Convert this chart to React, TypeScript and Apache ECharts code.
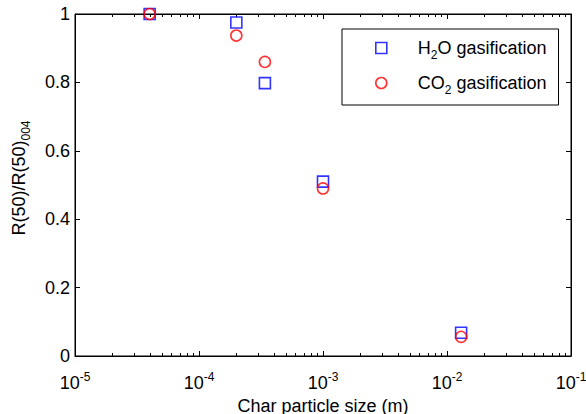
import React, { useEffect, useRef } from 'react';
import * as echarts from 'echarts';

// ---- data ----
const particleSize = [4e-5, 2e-4, 3.4e-4, 1e-3, 1.3e-2];
const h2oRatio = [1.0, 0.975, 0.798, 0.51, 0.068];
const co2Ratio = [1.0, 0.937, 0.86, 0.49, 0.056];
const seriesNames = ['H2O gasification', 'CO2 gasification'];
const xDecadeExponents = [-5, -4, -3, -2, -1];
const minorMultipliers = [2, 3, 4, 5, 6, 7, 8, 9];
const xAxisTitle = 'Char particle size (m)';

const FONT = '"Liberation Sans", Arial, Helvetica, sans-serif';

// tick marks for the frame (value, 0, isMajor)
const frameTicks: number[][] = [];
xDecadeExponents.forEach((e, i) => {
  frameTicks.push([Math.pow(10, e), 0, 1]);
  if (i < xDecadeExponents.length - 1) {
    minorMultipliers.forEach((m) => frameTicks.push([m * Math.pow(10, e), 0, 0]));
  }
});

const legendLabel = (name: string) => {
  if (name.startsWith('H2O')) return '{p|H}{s|2}{a|O gasification}';
  return '{p|CO}{s|2}{a| gasification}';
};

export default function App() {
  const ref = useRef<HTMLDivElement>(null);

  useEffect(() => {
    if (!ref.current) return;
    const chart = echarts.init(ref.current, undefined, { renderer: 'svg' });

    const axisLine = () => ({ show: true, onZero: false, lineStyle: { color: '#000', width: 1 } });
    const majorTick = () => ({ show: true, inside: true, length: 5, lineStyle: { color: '#000', width: 1 } });

    const option: any = {
      animation: false,
      backgroundColor: '#fff',
      textStyle: { fontFamily: FONT, color: '#000' },
      grid: {
        left: 75,
        right: 15,
        top: 14,
        bottom: 58,
        containLabel: false,
        outerBoundsMode: 'none',
        show: true,
        borderColor: '#000',
        borderWidth: 1,
        backgroundColor: 'rgba(255,255,255,0)',
      },
      legend: {
        data: seriesNames,
        orient: 'vertical',
        left: 342,
        top: 29,
        itemWidth: 11,
        itemHeight: 11,
        itemGap: 13,
        padding: [10, 12, 9, 33],
        borderColor: '#000',
        borderWidth: 1,
        backgroundColor: '#fff',
        itemStyle: { borderWidth: 1.6 },
        formatter: legendLabel,
        textStyle: {
          color: '#000',
          fontFamily: FONT,
          fontSize: 18,
          rich: {
            p: { fontFamily: FONT, fontSize: 18, lineHeight: 26, color: '#000', padding: [0, 0, 0, 26] },
            a: { fontFamily: FONT, fontSize: 18, lineHeight: 26, color: '#000' },
            s: { fontFamily: FONT, fontSize: 12, lineHeight: 6, verticalAlign: 'bottom', color: '#000' },
          },
        },
      },
      xAxis: {
        type: 'log',
        logBase: 10,
        min: 1e-5,
        max: 1e-1,
        position: 'bottom',
        axisLine: axisLine(),
        axisTick: majorTick(),
        splitLine: { show: false },
        minorTick: { show: false },
        axisLabel: {
          margin: 15,
          formatter: (v: number) => `{b|10}{e|${Math.round(Math.log10(v))}}`,
          rich: {
            b: { fontFamily: FONT, fontSize: 18, lineHeight: 24, color: '#000' },
            e: { fontFamily: FONT, fontSize: 12, lineHeight: 12, verticalAlign: 'top', color: '#000' },
          },
        },
        name: xAxisTitle,
        nameLocation: 'middle',
        nameGap: 31,
        nameTextStyle: { fontFamily: FONT, fontSize: 18, color: '#000' },
      },
      yAxis: [
        {
          type: 'value',
          min: 0,
          max: 1,
          interval: 0.2,
          position: 'left',
          axisLine: axisLine(),
          axisTick: majorTick(),
          splitLine: { show: false },
          axisLabel: { margin: 5, fontFamily: FONT, fontSize: 18, color: '#000' },
          name: '{a|R(50)/R(50)}{s|004}',
          nameLocation: 'middle',
          nameRotate: 90,
          nameGap: 43,
          nameTextStyle: {
            fontFamily: FONT,
            fontSize: 18,
            color: '#000',
            padding: [0, 0, 0, 14],
            rich: {
              a: { fontFamily: FONT, fontSize: 18, lineHeight: 26, color: '#000' },
              s: { fontFamily: FONT, fontSize: 12, lineHeight: 6, verticalAlign: 'bottom', color: '#000' },
            },
          },
        },
        {
          type: 'value',
          min: 0,
          max: 1,
          interval: 0.2,
          position: 'right',
          axisLine: axisLine(),
          axisTick: majorTick(),
          splitLine: { show: false },
          axisLabel: { show: false },
        },
        {
          // hidden helper axis: its split lines at 0 and 1 close the box
          type: 'value',
          min: 0,
          max: 1,
          interval: 1,
          position: 'right',
          axisLine: { show: false },
          axisTick: { show: false },
          axisLabel: { show: false },
          splitLine: { show: true, lineStyle: { color: '#000', width: 1, type: 'solid' } },
        },
      ],
      series: [
        {
          type: 'custom',
          name: 'frameTicks',
          silent: true,
          xAxisIndex: 0,
          yAxisIndex: 0,
          clip: false,
          z: 5,
          data: frameTicks,
          renderItem: (params: any, api: any) => {
            const cs = params.coordSys;
            const x = Math.round(api.coord([api.value(0), 0])[0]) + 0.5;
            const major = api.value(2) === 1;
            const len = major ? 5 : 3;
            const top = cs.y;
            const bottom = cs.y + cs.height;
            const children: any[] = [
              { type: 'line', shape: { x1: x, y1: top, x2: x, y2: top + len }, style: { stroke: '#000', lineWidth: 1 } },
            ];
            if (!major) {
              children.push({ type: 'line', shape: { x1: x, y1: bottom, x2: x, y2: bottom - len }, style: { stroke: '#000', lineWidth: 1 } });
            }
            if (params.dataIndex === 0) {
              children.push({
                type: 'rect',
                shape: { x: cs.x, y: Math.round(top), width: cs.width, height: 1 },
                style: { fill: '#000' },
              });
            }
            return { type: 'group', children };
          },
        },
        {
          type: 'scatter',
          name: seriesNames[0],
          symbol: 'rect',
          symbolSize: 11,
          xAxisIndex: 0,
          yAxisIndex: 0,
          z: 6,
          itemStyle: { color: 'rgba(255,255,255,0)', borderColor: '#0000ff', borderWidth: 1.6 },
          data: particleSize.map((x, i) => [x, h2oRatio[i]]),
          clip: false,
        },
        {
          type: 'scatter',
          name: seriesNames[1],
          symbol: 'circle',
          symbolSize: 11,
          xAxisIndex: 0,
          yAxisIndex: 0,
          z: 7,
          itemStyle: { color: 'rgba(255,255,255,0)', borderColor: '#ff0000', borderWidth: 1.6 },
          data: particleSize.map((x, i) => [x, co2Ratio[i]]),
          clip: false,
        },
      ],
    };

    chart.setOption(option);
    return () => chart.dispose();
  }, []);

  return (
    <div
      ref={ref}
      style={{ position: 'fixed', left: 0, top: 0, width: 586, height: 414, background: '#fff' }}
    />
  );
}
